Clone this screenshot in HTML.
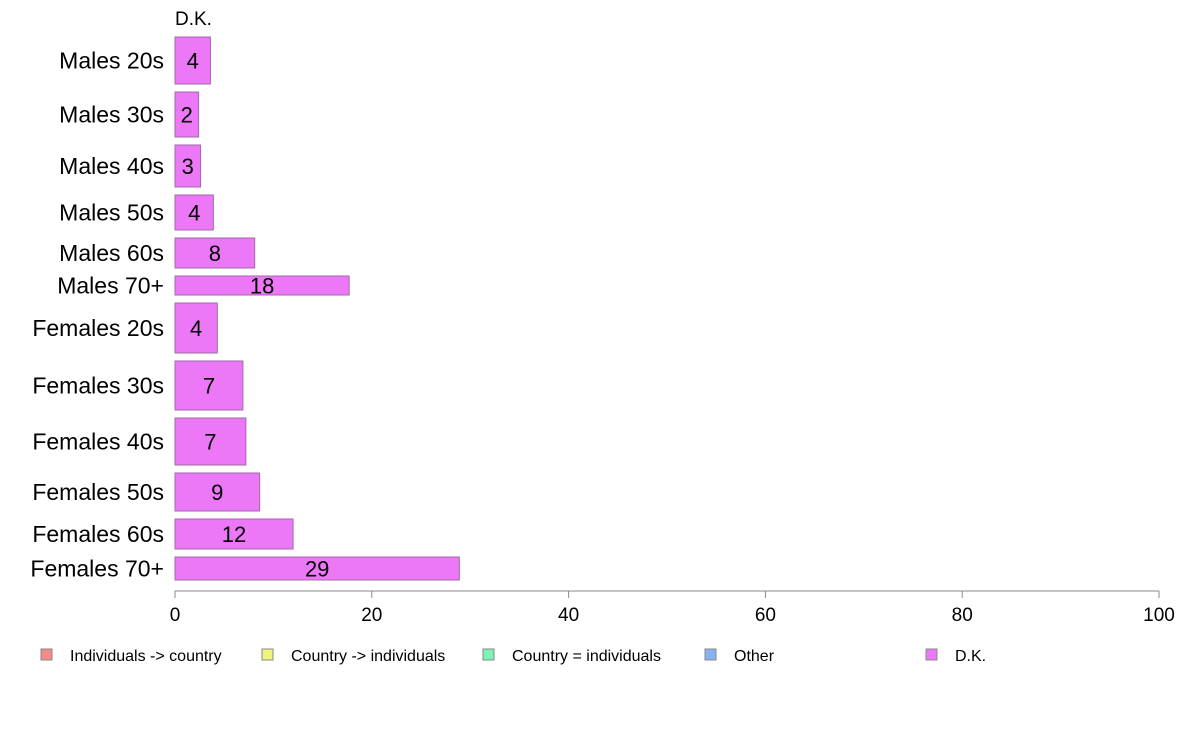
<!DOCTYPE html>
<html><head><meta charset="utf-8"><style>
body{margin:0;background:#fff;font-family:"Liberation Sans",sans-serif;}
svg text{font-family:"Liberation Sans",sans-serif;}
</style></head><body>
<svg id="chart" width="1188" height="736" xmlns="http://www.w3.org/2000/svg">
<text x="175" y="25" font-size="19">D.K.</text>
<g id="bars"></g>
<g id="axis"></g>
<g id="legend"></g>
</svg>
<script>
const categories = ["Males 20s","Males 30s","Males 40s","Males 50s","Males 60s","Males 70+","Females 20s","Females 30s","Females 40s","Females 50s","Females 60s","Females 70+"];
const values = [3.6,2.4,2.6,3.9,8.1,17.7,4.3,6.9,7.2,8.6,12.0,28.9];
const valueLabels = ["4","2","3","4","8","18","4","7","7","9","12","29"];
const groupSizes = [47,45,42,35,30,19,50,49,47,38,30,23];
const xTicks = [0,20,40,60,80,100];
const legendLabels = ["Individuals -> country","Country -> individuals","Country = individuals","Other","D.K."];
const legendColors = ["#f58a8a","#eef57a","#7cf5b4","#87b3f0","#ec78f7"];

const NS="http://www.w3.org/2000/svg";
const x0=175,x1=1159,top0=37,bottom0=580,gap=8;
const xs=v=>x0+(v/100)*(x1-x0);
const totalH=bottom0-top0-gap*(categories.length-1);
const sumSizes=groupSizes.reduce((a,b)=>a+b,0);
function mk(tag,attrs,parent){const e=document.createElementNS(NS,tag);for(const k in attrs)e.setAttribute(k,attrs[k]);parent.appendChild(e);return e;}
const bars=document.getElementById('bars');
let y=top0;
categories.forEach((c,i)=>{
  const h=groupSizes[i]/sumSizes*totalH;
  const r=mk('rect',{x:x0,y:y,width:xs(values[i])-x0,height:h,fill:'#ec78f7',stroke:'#a06aa8','stroke-width':1},bars);
  
  
  const t=mk('text',{x:xs(values[i]/2),y:y+h/2+8,'font-size':22,'text-anchor':'middle',fill:'#000'},bars);
  t.textContent=valueLabels[i];
  
  
  const l=mk('text',{x:164,y:y+h/2+8,'font-size':23,'text-anchor':'end',fill:'#000'},bars);
  l.textContent=c;
  
  
  y+=h+gap;
});
const axis=document.getElementById('axis');
const al=mk('line',{x1:x0,y1:591,x2:x1,y2:591,stroke:'#888','stroke-width':1},axis);


xTicks.forEach(v=>{
  const tk=mk('line',{x1:xs(v),y1:591,x2:xs(v),y2:598,stroke:'#888','stroke-width':1},axis);
  
  
  const t=mk('text',{x:xs(v),y:621,'font-size':19,'text-anchor':'middle',fill:'#000'},axis);
  t.textContent=v;
  
  
});
const legend=document.getElementById('legend');
const legX=[41,262,483,705,926];
legendLabels.forEach((lab,i)=>{
  const r=mk('rect',{x:legX[i],y:649,width:11,height:11,fill:legendColors[i],stroke:'#888'},legend);
  
  
  const t=mk('text',{x:legX[i]+29,y:661,'font-size':16,fill:'#000'},legend);
  t.textContent=lab;
  
  
});
</script>
</body></html>
